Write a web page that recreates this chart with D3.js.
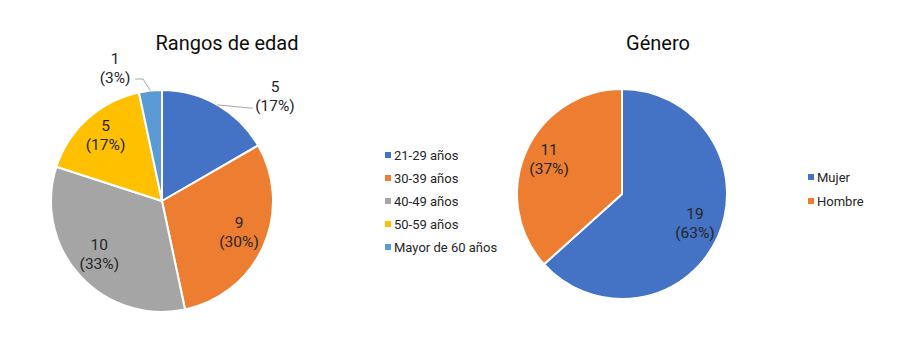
<!DOCTYPE html>
<html>
<head>
<meta charset="utf-8">
<script src="https://cdn.jsdelivr.net/npm/d3@7"></script>
<style>
  body { margin: 0; background: #fff; }
  svg { display: block; font-family: Roboto, "Noto Sans", sans-serif; }
</style>
</head>
<body>
<svg id="chart" width="897" height="358"></svg>
<script>
// ---- Data ----
const ageTitle = "Rangos de edad";
const ageCategories = ["21-29 años", "30-39 años", "40-49 años", "50-59 años", "Mayor de 60 años"];
const ageValues = [5, 9, 10, 5, 1];
const ageColors = ["#4472C4", "#ED7D31", "#A5A5A5", "#FFC000", "#5B9BD5"];

const genderTitle = "Género";
const genderCategories = ["Mujer", "Hombre"];
const genderValues = [19, 11];
const genderColors = ["#4472C4", "#ED7D31"];

// ---- Drawing ----
const svg = d3.select("#chart");
const textColor = "#262626";

function drawPie(opts) {
  const { cx, cy, r, values, colors, outside, labelR } = opts;
  const total = d3.sum(values);
  const pie = d3.pie().sort(null).value(d => d);
  const arcs = pie(values);
  const arc = d3.arc().innerRadius(0).outerRadius(r);
  const g = svg.append("g").attr("transform", `translate(${cx},${cy})`);
  g.selectAll("path").data(arcs).enter().append("path")
    .attr("d", arc)
    .attr("fill", (d, i) => colors[i])
    .attr("stroke", "#fff")
    .attr("stroke-width", 2)
    .attr("stroke-linejoin", "round");

  arcs.forEach((d, i) => {
    const pct = Math.round(d.value / total * 100);
    const mid = (d.startAngle + d.endAngle) / 2;
    let x, y;
    const o = outside[i];
    if (o) {
      x = o.x; y = o.y;
      const ex = Math.sin(mid) * r, ey = -Math.cos(mid) * r;
      g.append("path")
        .attr("d", d3.line()([[ex, ey]].concat(o.line)))
        .attr("fill", "none")
        .attr("stroke", "#A6A6A6")
        .attr("stroke-width", 1);
    } else {
      const lr = labelR * r;
      x = Math.sin(mid) * lr; y = -Math.cos(mid) * lr - 3;
    }
    const t = g.append("text")
      .attr("text-anchor", "middle")
      .attr("fill", textColor)
      .style("font-size", "15.5px");
    t.append("tspan").attr("x", x).attr("y", y - 9.5 + 5.5).text(d.value);
    t.append("tspan").attr("x", x).attr("y", y + 9.5 + 5.5).text(`(${pct}%)`);
  });
}

function drawLegend(x, y, step, cats, colors) {
  const g = svg.append("g").attr("transform", `translate(${x},${y})`);
  cats.forEach((c, i) => {
    g.append("rect").attr("x", 0).attr("y", i * step - 3).attr("width", 6).attr("height", 6).attr("fill", colors[i]);
    g.append("text").attr("x", 9).attr("y", i * step + 4.5)
      .attr("fill", textColor).style("font-size", "13px").text(c);
  });
}

// Titles
svg.append("text").attr("x", 227).attr("y", 50).attr("text-anchor", "middle")
  .style("font-size", "20px").attr("fill", "#0d0d0d").text(ageTitle);
svg.append("text").attr("x", 658).attr("y", 50).attr("text-anchor", "middle")
  .style("font-size", "20px").attr("fill", "#0d0d0d").text(genderTitle);

// Left pie
drawPie({
  cx: 162, cy: 201, r: 111, values: ageValues, colors: ageColors, labelR: 0.76,
  outside: {
    0: { x: 113, y: -105, line: [[88, -93], [91, -93]] },
    4: { x: -47, y: -133, line: [[-19, -122], [-27, -122]] }
  }
});

// Right pie
drawPie({
  cx: 622, cy: 194, r: 105, values: genderValues, colors: genderColors, labelR: 0.76,
  outside: {}
});

drawLegend(385, 155, 23, ageCategories, ageColors);
drawLegend(808, 177, 24, genderCategories, genderColors);
</script>
</body>
</html>
